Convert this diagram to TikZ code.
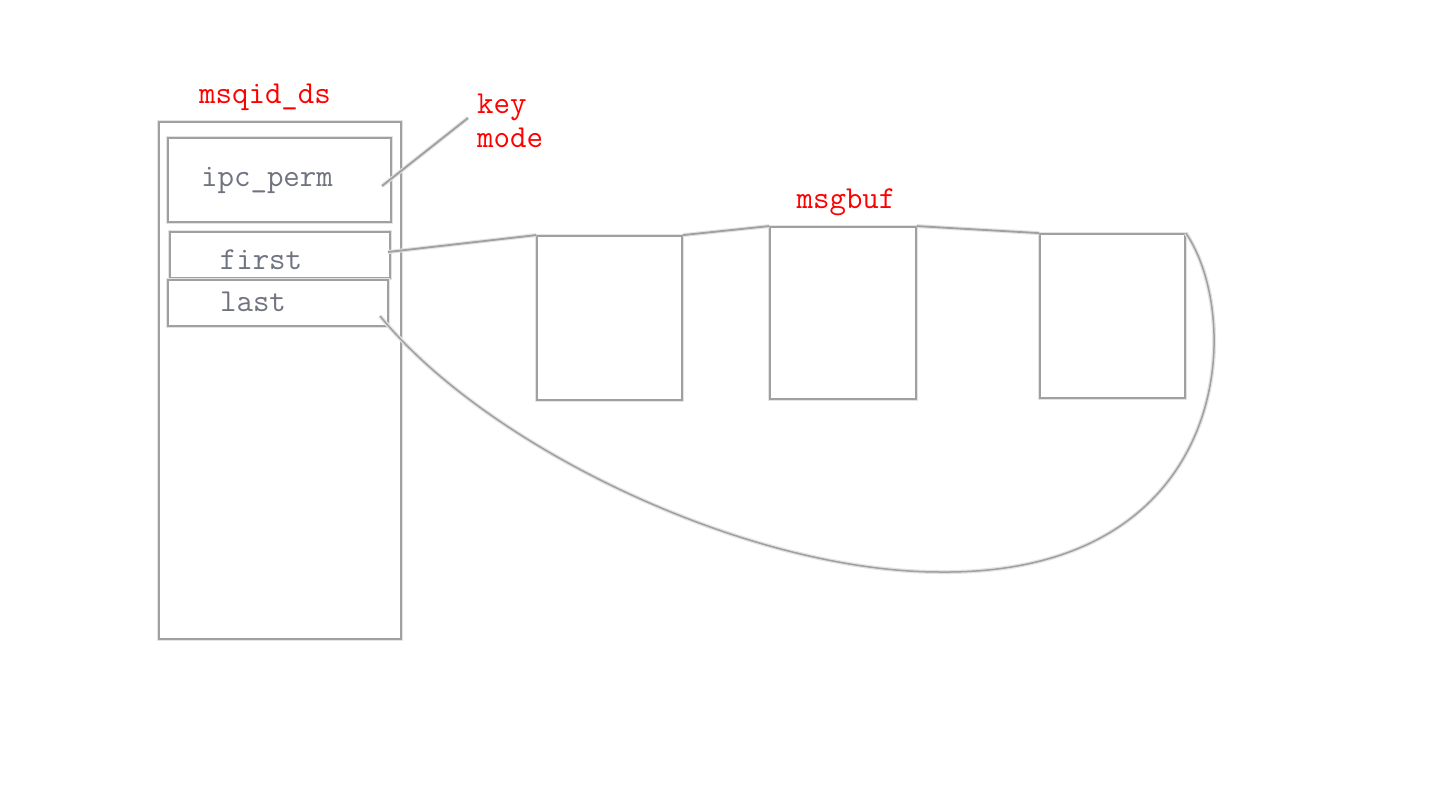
\documentclass[tikz,border=0pt]{standalone}
\definecolor{txtgray}{RGB}{112,116,128}
\definecolor{lngray}{RGB}{160,160,160}
\begin{document}
\begin{tikzpicture}[x=1pt,y=-1pt,
  sk/.style={draw=lngray,line width=1.8pt,preaction={draw=gray!22,line width=4pt}},
  box/.style={sk,rectangle,inner sep=0pt,fill=white},
  gtxt/.style={text=txtgray,font=\ttfamily\fontsize{32}{36}\selectfont,inner sep=0pt},
  rtxt/.style={text=red,font=\ttfamily\fontsize{32}{34}\selectfont,inner sep=0pt}]
\useasboundingbox (0,0) rectangle (1433,803);
\fill[white] (0,0) rectangle (1433,803);
% msqid_ds structure
\node[box,minimum width=242pt,minimum height=517pt] (ds) at (280,380.5) {};
\node[box,minimum width=223pt,minimum height=84pt] (perm) at (279.5,180) {};
\node[box,minimum width=220pt,minimum height=46pt] (first) at (280,255) {};
\node[box,minimum width=220pt,minimum height=46pt] (last) at (278,303) {};
\node[gtxt] (permt) at (267,180) {ipc\_perm};
\node[gtxt] (firstt) at (261,260) {first};
\node[gtxt] (lastt) at (253,302) {last};
\node[rtxt] (dsl) at (265,97) {msqid\_ds};
\node[rtxt,align=left,anchor=west] (keyl) at (477,121) {key\\mode};
% msgbuf boxes
\node[box,minimum width=145pt,minimum height=164pt] (b1) at (609.5,318) {};
\node[box,minimum width=146pt,minimum height=172pt] (b2) at (843,313) {};
\node[box,minimum width=145pt,minimum height=164pt] (b3) at (1112.5,316) {};
\node[rtxt] (bufl) at (846,202) {msgbuf};
% connectors
\coordinate (permend) at (382,186);
\coordinate (keyend) at (468,118);
\coordinate (firstend) at (388,252);
\coordinate (lastend) at (380,316);
\coordinate (bottom) at (940,572);
\draw[sk] (permend) -- (keyend);
\draw[sk] (firstend) -- (b1.north west);
\draw[sk] (b1.north east) -- (b2.north west);
\draw[sk] (b2.north east) -- (b3.north west);
\draw[sk,line width=1.5pt] (b3.north east) .. controls (1245,320) and (1232,575) .. (bottom)
  .. controls (750,572) and (490,450) .. (lastend);
\end{tikzpicture}
\end{document}
